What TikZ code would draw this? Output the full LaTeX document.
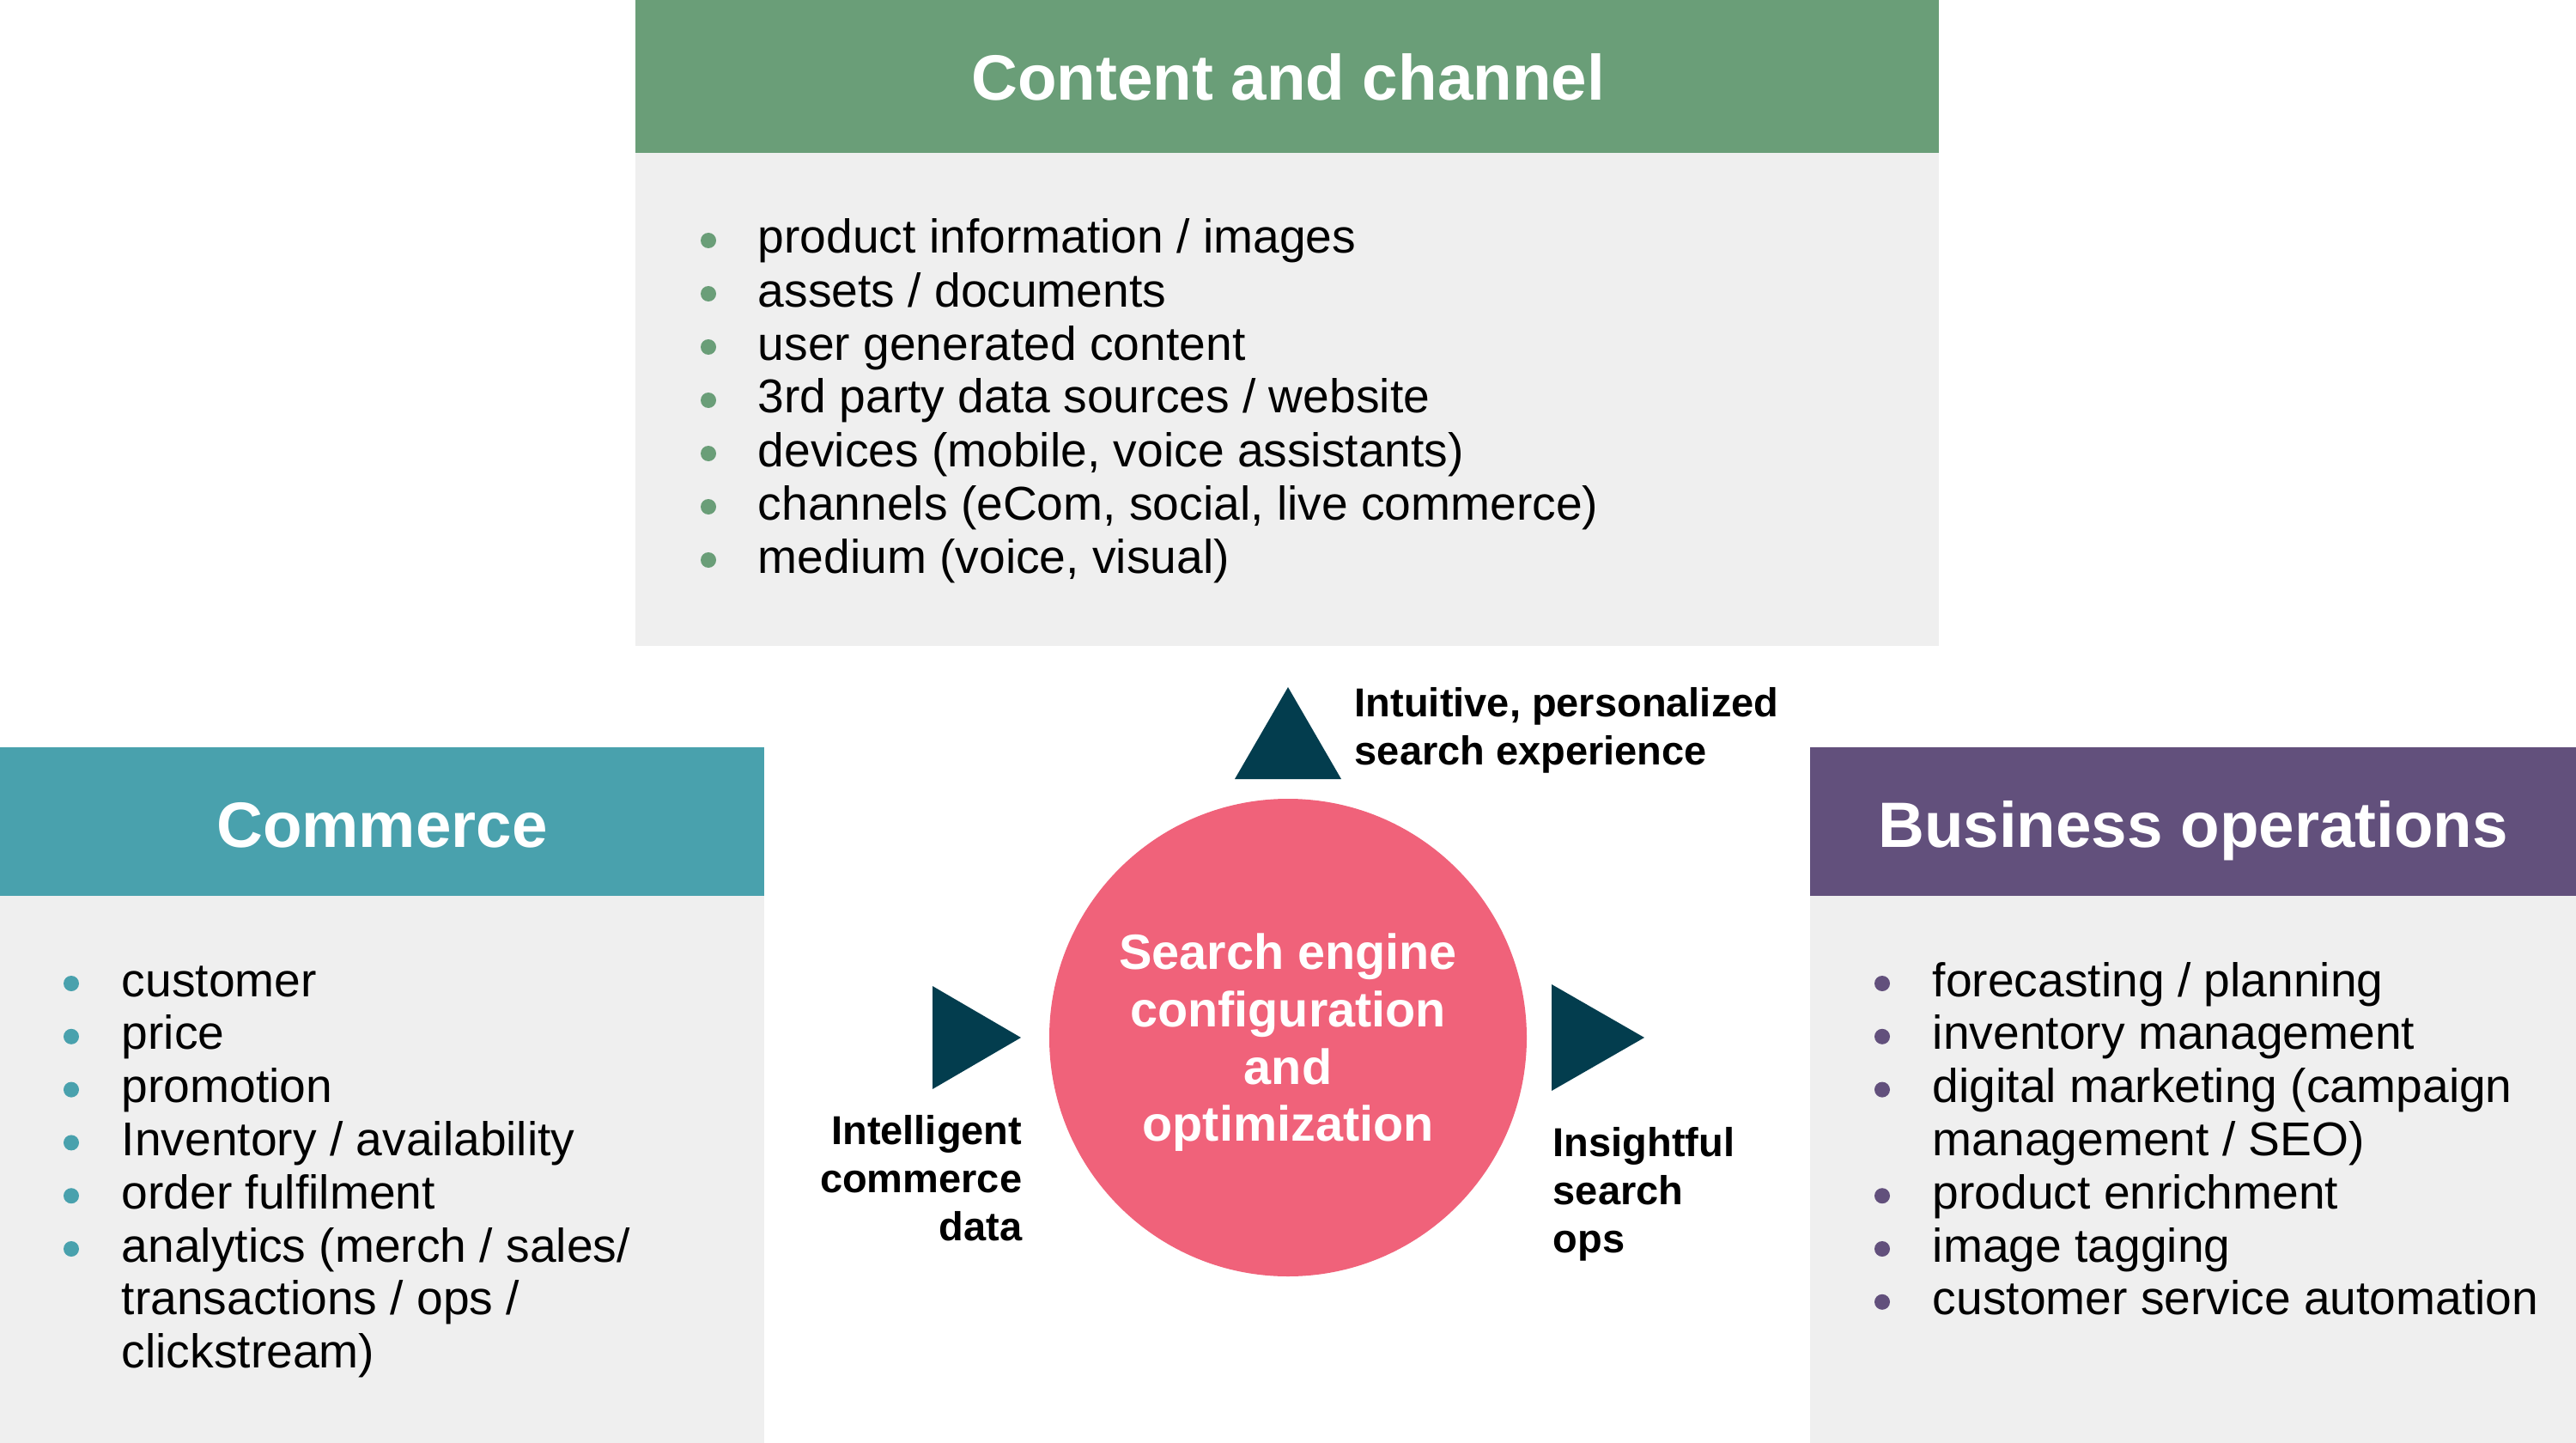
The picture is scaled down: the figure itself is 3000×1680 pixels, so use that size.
\documentclass[tikz,border=0pt]{standalone}
\usepackage{fontspec}
\setmainfont{Liberation Sans}
\definecolor{hgreen}{HTML}{6A9E78}
\definecolor{hteal}{HTML}{49A1AD}
\definecolor{hpurple}{HTML}{62507C}
\definecolor{bodygray}{HTML}{EFEFEF}
\definecolor{corepink}{HTML}{F0627A}
\definecolor{navy}{HTML}{033D4E}
\begin{document}
\begin{tikzpicture}[x=0.25pt,y=-0.25pt,
  panel/.style={rectangle, inner sep=0, outer sep=0, anchor=north west},
  headtext/.style={anchor=base, text=white, inner sep=0, font=\fontsize{18.65}{22}\selectfont\bfseries},
  itemtext/.style={anchor=base west, inner sep=0, font=\fontsize{13.8}{16}\selectfont},
  labeltext/.style={inner sep=0, font=\fontsize{11.75}{14}\selectfont\bfseries},
  coretext/.style={anchor=base, inner sep=0, text=white, font=\fontsize{14.4}{17}\selectfont\bfseries},
  tri/.style={fill=navy}]

\useasboundingbox (0,0) rectangle (3000,1680);
\fill[white] (0,0) rectangle (3000,1680);

% panels
\node[panel, fill=hgreen,   minimum width=379.5pt, minimum height=44.5pt]   (cchead) at (740,0) {};
\node[panel, fill=bodygray, minimum width=379.5pt, minimum height=143.5pt]  (ccbody) at (740,178) {};
\node[panel, fill=hteal,    minimum width=222.5pt, minimum height=43.25pt]  (cohead) at (0,870) {};
\node[panel, fill=bodygray, minimum width=222.5pt, minimum height=159.25pt] (cobody) at (0,1043) {};
\node[panel, fill=hpurple,  minimum width=223pt,   minimum height=43.25pt]  (bohead) at (2108,870) {};
\node[panel, fill=bodygray, minimum width=223pt,   minimum height=159.25pt] (bobody) at (2108,1043) {};

% headers
\node[headtext] (cctitle) at (1500,117) {Content and channel};
\node[headtext] (cotitle) at (445,986) {Commerce};
\node[headtext] (botitle) at (2554,986) {Business operations};

% content list
\foreach \t [count=\i from 0] in {product information / images, assets / documents, user generated content, 3rd party data sources / website, {devices (mobile, voice assistants)}, {channels (eCom, social, live commerce)}, {medium (voice, visual)}}{
  \node[itemtext] (cc\i) at (882,295+62*\i) {\t};
  \fill[hgreen] (825,280+62*\i) circle (9);
}

% commerce list
\foreach \t [count=\i from 0] in {customer, price, promotion, Inventory / availability, order fulfilment, analytics (merch / sales/, transactions / ops /, clickstream)}{
  \node[itemtext] (co\i) at (141,1160+61.8*\i) {\t};
}
\foreach \i in {0,...,5}{
  \fill[hteal] (83,1145+61.8*\i) circle (9);
}

% business list
\foreach \t [count=\i from 0] in {forecasting / planning, inventory management, digital marketing (campaign, management / SEO), product enrichment, image tagging, customer service automation}{
  \node[itemtext] (bo\i) at (2250,1160+61.8*\i) {\t};
}
\foreach \i in {0,1,2,4,5,6}{
  \fill[hpurple] (2192,1145+61.8*\i) circle (9);
}

% core circle
\node[circle, fill=corepink, minimum size=139pt, inner sep=0] (core) at (1500,1208) {};
\node[coretext] (core1) at (1500,1128) {Search engine};
\node[coretext] (core2) at (1500,1195) {configuration};
\node[coretext] (core3) at (1500,1262) {and};
\node[coretext] (core4) at (1500,1328) {optimization};

% triangles
\fill[tri] (1438,907) -- (1500,800) -- (1562,907) -- cycle;
\fill[tri] (1086,1148) -- (1189,1208) -- (1086,1268) -- cycle;
\fill[tri] (1807,1146) -- (1915,1208) -- (1807,1270) -- cycle;

% labels
\node[labeltext, anchor=base west] (up1) at (1577,834) {Intuitive, personalized};
\node[labeltext, anchor=base west] (up2) at (1577,890) {search experience};
\node[labeltext, anchor=base east] (lf1) at (1191,1332) {Intelligent};
\node[labeltext, anchor=base east] (lf2) at (1191,1388) {commerce};
\node[labeltext, anchor=base east] (lf3) at (1191,1444) {data};
\node[labeltext, anchor=base west] (rt1) at (1808,1346) {Insightful};
\node[labeltext, anchor=base west] (rt2) at (1808,1402) {search};
\node[labeltext, anchor=base west] (rt3) at (1808,1458) {ops};
\end{tikzpicture}
\end{document}
